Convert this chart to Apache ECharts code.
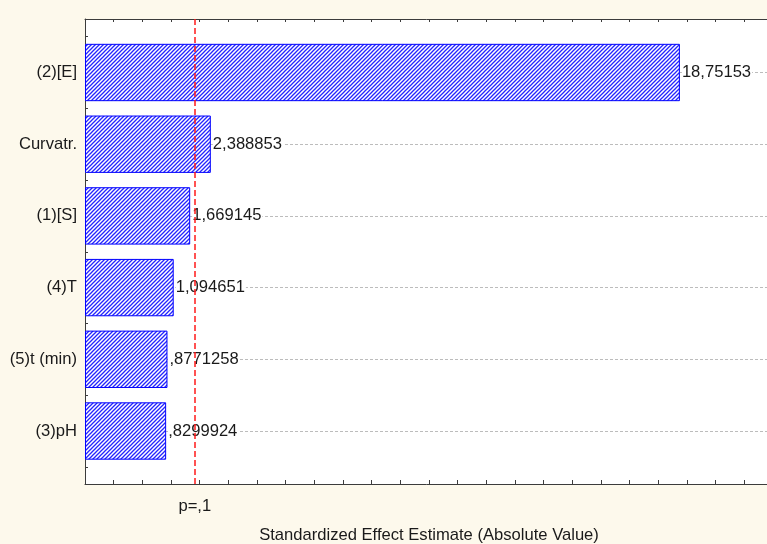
<!DOCTYPE html>
<html>
<head>
<meta charset="utf-8">
<style>
  html, body { margin: 0; padding: 0; background: #fdf9ec; }
  #chart { width: 767px; height: 544px; }
</style>
<script src="https://cdn.jsdelivr.net/npm/echarts@6.0.0/dist/echarts.min.js"></script>
</head>
<body>
<div id="chart"></div>
<script>
// Pareto chart of standardized effects
const categories = ['(2)[E]', 'Curvatr.', '(1)[S]', '(4)T', '(5)t (min)', '(3)pH'];
const effects = [18.75153, 2.388853, 1.669145, 1.094651, 0.8771258, 0.8299924];
const pLimit = 1.833;
const pLimitLabel = 'p=,1';
const xTitle = 'Standardized Effect Estimate (Absolute Value)';
const xMin = -2, xMax = 22, xStep = 1;

const FONT = 'Liberation Sans, Arial, sans-serif';
const FS = 16.6;
const TEXT = '#1a1a1a';
const AXIS = '#3c3c3c';

// decimal comma, no leading zero
function fmt(v) {
  return String(v).replace('.', ',').replace(/^0,/, ',');
}

// diagonal "/" hatch used to fill the bars
function hatch() {
  const c = document.createElement('canvas');
  c.width = 4; c.height = 4;
  const g = c.getContext('2d');
  g.fillStyle = '#ffffff';
  g.fillRect(0, 0, 4, 4);
  g.strokeStyle = '#2424ff';
  g.lineWidth = 1.3;
  g.beginPath();
  g.moveTo(0, 4); g.lineTo(4, 0);
  g.moveTo(-1, 1); g.lineTo(1, -1);
  g.moveTo(3, 5); g.lineTo(5, 3);
  g.stroke();
  return c;
}

const L = 85, R = -6;
const plotTop = 19, plotBottom = 60;
const rowH = 71.7, firstCenter = 72.5;
const bandTop = firstCenter - rowH / 2;
const bandBottom = 544 - (bandTop + rowH * categories.length);
const lastCenter = firstCenter + rowH * (categories.length - 1);

const gridBase = { left: L, right: R, outerBoundsMode: 'none', containLabel: false };

const chart = echarts.init(document.getElementById('chart'), null, { renderer: 'canvas' });
chart.setOption({
  animation: false,
  backgroundColor: '#fdf9ec',
  textStyle: { fontFamily: FONT },
  grid: [
    Object.assign({ top: plotTop, bottom: plotBottom, show: true, backgroundColor: '#ffffff', borderWidth: 0 }, gridBase),
    Object.assign({ top: bandTop, bottom: bandBottom }, gridBase),
    Object.assign({ top: firstCenter, bottom: 544 - lastCenter }, gridBase)
  ],
  xAxis: [
    {
      gridIndex: 0, type: 'value', position: 'bottom', min: xMin, max: xMax, interval: xStep,
      axisLine: { show: true, onZero: false, lineStyle: { color: AXIS, width: 1 } },
      axisTick: { show: true, inside: true, length: 4, lineStyle: { color: AXIS } },
      axisLabel: { show: false }, splitLine: { show: false },
      name: xTitle, nameLocation: 'middle', nameGap: 43,
      nameTextStyle: { color: TEXT, fontSize: FS, fontFamily: FONT }
    },
    {
      gridIndex: 0, type: 'value', position: 'top', min: xMin, max: xMax, interval: xStep,
      axisLine: { show: true, onZero: false, lineStyle: { color: AXIS, width: 1 } },
      axisTick: { show: true, inside: true, length: 3, lineStyle: { color: AXIS } },
      axisLabel: { show: false }, splitLine: { show: false }
    },
    // bars grow from the left edge of the axis
    { gridIndex: 1, type: 'value', min: xMin, max: xMax, startValue: xMin, show: false },
    { gridIndex: 2, type: 'value', min: xMin, max: xMax, show: false }
  ],
  yAxis: [
    {
      gridIndex: 0, type: 'value', min: 0, max: 1, position: 'left',
      axisLine: { show: true, onZero: false, lineStyle: { color: AXIS, width: 1 } },
      axisTick: { show: false }, axisLabel: { show: false }, splitLine: { show: false }
    },
    {
      gridIndex: 1, type: 'category', inverse: true, data: categories, position: 'left',
      axisLine: { show: false, onZero: false },
      axisTick: { show: true, inside: true, length: 3, lineStyle: { color: AXIS } },
      axisLabel: { margin: 8, color: TEXT, fontSize: FS, fontFamily: FONT },
      splitLine: { show: false }
    },
    {
      gridIndex: 1, type: 'category', inverse: true, data: categories, position: 'left',
      axisLine: { show: false, onZero: false },
      axisTick: { show: true, inside: true, length: 3, alignWithLabel: true, lineStyle: { color: AXIS } },
      axisLabel: { show: false }, splitLine: { show: false }
    },
    {
      gridIndex: 2, type: 'value', min: 0, max: categories.length - 1, interval: 1, inverse: true,
      axisLine: { show: false }, axisTick: { show: false }, axisLabel: { show: false },
      splitLine: { show: true, lineStyle: { color: '#bcbcbc', width: 1, type: [3, 2] } }
    }
  ],
  series: [
    {
      type: 'bar', xAxisIndex: 2, yAxisIndex: 1, data: effects,
      barWidth: '80%', silent: true, z: 3,
      itemStyle: { color: { image: hatch(), repeat: 'repeat' }, borderColor: '#0000ff', borderWidth: 1 },
      label: {
        show: true, position: 'right', distance: 2,
        formatter: (p) => fmt(p.value),
        color: TEXT, fontSize: FS, fontFamily: FONT,
        backgroundColor: '#ffffff', padding: [0, 1, 0, 0]
      }
    },
    {
      type: 'line', xAxisIndex: 0, yAxisIndex: 0, data: [], silent: true,
      markLine: {
        silent: true, symbol: 'none', animation: false,
        lineStyle: { color: '#ff1a1a', type: [6, 3], width: 1.5 },
        label: { show: true, position: 'start', formatter: pLimitLabel, distance: 14, color: TEXT, fontSize: FS, fontFamily: FONT },
        data: [{ xAxis: pLimit }]
      }
    }
  ]
});
</script>
</body>
</html>
